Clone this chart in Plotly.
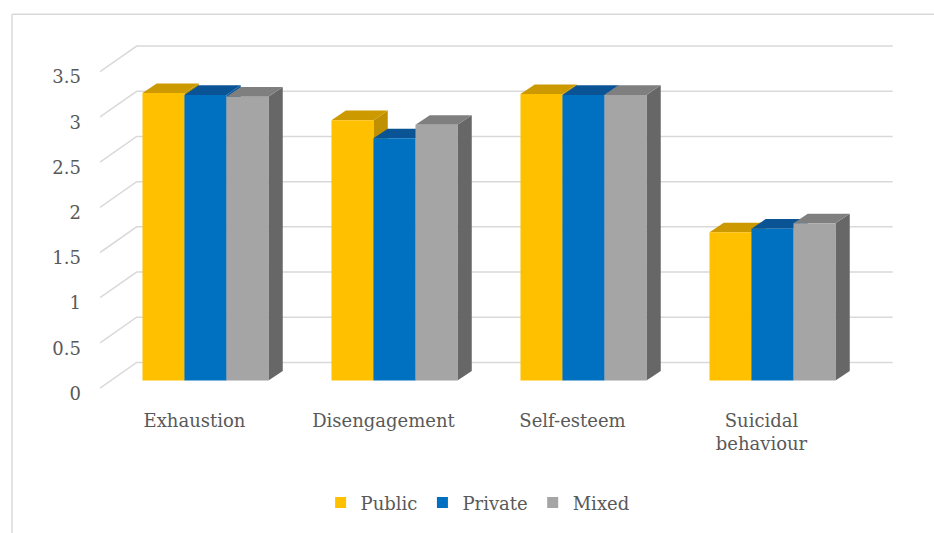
import plotly.graph_objects as go

# ---------------- data ----------------
categories = ["Exhaustion", "Disengagement", "Self-esteem", "Suicidal<br>behaviour"]
series_names = ["Public", "Private", "Mixed"]
public = [3.18, 2.88, 3.17, 1.64]
private = [3.16, 2.68, 3.16, 1.68]
mixed = [3.14, 2.83, 3.16, 1.74]
y_ticks = [0, 0.5, 1, 1.5, 2, 2.5, 3, 3.5]
y_tick_labels = ["0", "0.5", "1", "1.5", "2", "2.5", "3", "3.5"]

# ---------------- style ----------------
front_colors = ["#FFC000", "#0070C0", "#A5A5A5"]
top_colors = ["#CC9A00", "#0A5496", "#7F7F7F"]
side_colors = ["#BF9000", "#0B5A9E", "#676767"]
TEXT = "#595959"
GRID = "#D9D9D9"
FONT = "DejaVu Serif"

# oblique 3-D geometry (in axis units)
WALL_DX, WALL_DY = 0.194, 0.284     # back wall offset from front plane
PLANE_DX, PLANE_DY = 0.058, 0.084   # bar plane offset from front plane
DEPTH_DX, DEPTH_DY = 0.0757, 0.106  # bar depth
BW = 0.2222                         # bar width
LABEL_SHIFT = 0.06                  # vertical nudge of y tick labels

W, H = 934, 533
ZERO_PX = 392                       # pixel row of value 0 on the front plane
ML, MR, MT, MB = 100, 34, 40, 132
PX_X, PX_Y = 189.0, 91.4
PW, PH = W - ML - MR, H - MT - MB
x_range = [-0.5, -0.5 + PW / PX_X]
y_low = -((H - MB) - ZERO_PX) / PX_Y
y_range = [y_low, y_low + PH / PX_Y]

fig = go.Figure()

# back wall gridlines + side-wall diagonals
gx, gy = [], []
n_cat = len(categories)
for t in y_ticks:
    gx += [-0.5, -0.5 + WALL_DX, n_cat - 0.5 + WALL_DX, None]
    gy += [t, t + WALL_DY, t + WALL_DY, None]
fig.add_trace(go.Scatter(x=gx, y=gy, mode="lines",
                         line=dict(color=GRID, width=1.5),
                         hoverinfo="skip", showlegend=False))

all_series = [public, private, mixed]


def poly_trace(xs, ys, color):
    return go.Scatter(x=xs, y=ys, mode="lines", fill="toself",
                      fillcolor=color, line=dict(width=0, color=color),
                      hoverinfo="skip", showlegend=False)


# draw bars left to right (painter's order)
for ci in range(n_cat):
    for k, vals in enumerate(all_series):
        v = vals[ci]
        x0 = ci + PLANE_DX + (k - 1.5) * BW
        x1 = x0 + BW
        b = PLANE_DY
        t = PLANE_DY + v
        # right side face
        fig.add_trace(poly_trace(
            [x1, x1, x1 + DEPTH_DX, x1 + DEPTH_DX, x1],
            [b, t, t + DEPTH_DY, b + DEPTH_DY, b], side_colors[k]))
        # top face
        fig.add_trace(poly_trace(
            [x0, x1, x1 + DEPTH_DX, x0 + DEPTH_DX, x0],
            [t, t, t + DEPTH_DY, t + DEPTH_DY, t], top_colors[k]))
        # front face
        fig.add_trace(poly_trace(
            [x0, x1, x1, x0, x0],
            [b, b, t, t, b], front_colors[k]))

# legend entries
for k, name in enumerate(series_names):
    fig.add_trace(go.Scatter(x=[None], y=[None], mode="markers", name=name,
                             marker=dict(symbol="square", size=11,
                                         color=front_colors[k]),
                             showlegend=True))

fx0 = (12 - ML) / PW
fy1 = (H - MB - 14) / PH
fig.update_layout(
    width=W, height=H,
    margin=dict(l=ML, r=MR, t=MT, b=MB),
    paper_bgcolor="white", plot_bgcolor="white",
    font=dict(family=FONT, size=18, color=TEXT),
    showlegend=True,
    legend=dict(orientation="h", x=0.472, xanchor="center",
                y=((H - MB) - 508) / PH, yanchor="middle",
                font=dict(family=FONT, size=18, color=TEXT),
                itemwidth=30, tracegroupgap=0),
    xaxis=dict(range=x_range, showgrid=False, zeroline=False, showline=False,
               tickmode="array", tickvals=list(range(n_cat)),
               ticktext=categories, ticks="", ticklabelstandoff=11,
               fixedrange=True),
    yaxis=dict(range=y_range, showgrid=False, zeroline=False, showline=False,
               tickmode="array", tickvals=[t - LABEL_SHIFT for t in y_ticks],
               ticktext=y_tick_labels,
               ticks="", ticklabelstandoff=18, fixedrange=True),
    shapes=[
        dict(type="line", xref="paper", yref="paper",
             x0=fx0, x1=(W + 10 - ML) / PW, y0=fy1, y1=fy1,
             line=dict(color=GRID, width=1.5), layer="below"),
        dict(type="line", xref="paper", yref="paper",
             x0=fx0, x1=fx0, y0=fy1, y1=(H - MB - (H + 10)) / PH,
             line=dict(color=GRID, width=1.5), layer="below"),
    ],
)

fig.write_html("out.html")
